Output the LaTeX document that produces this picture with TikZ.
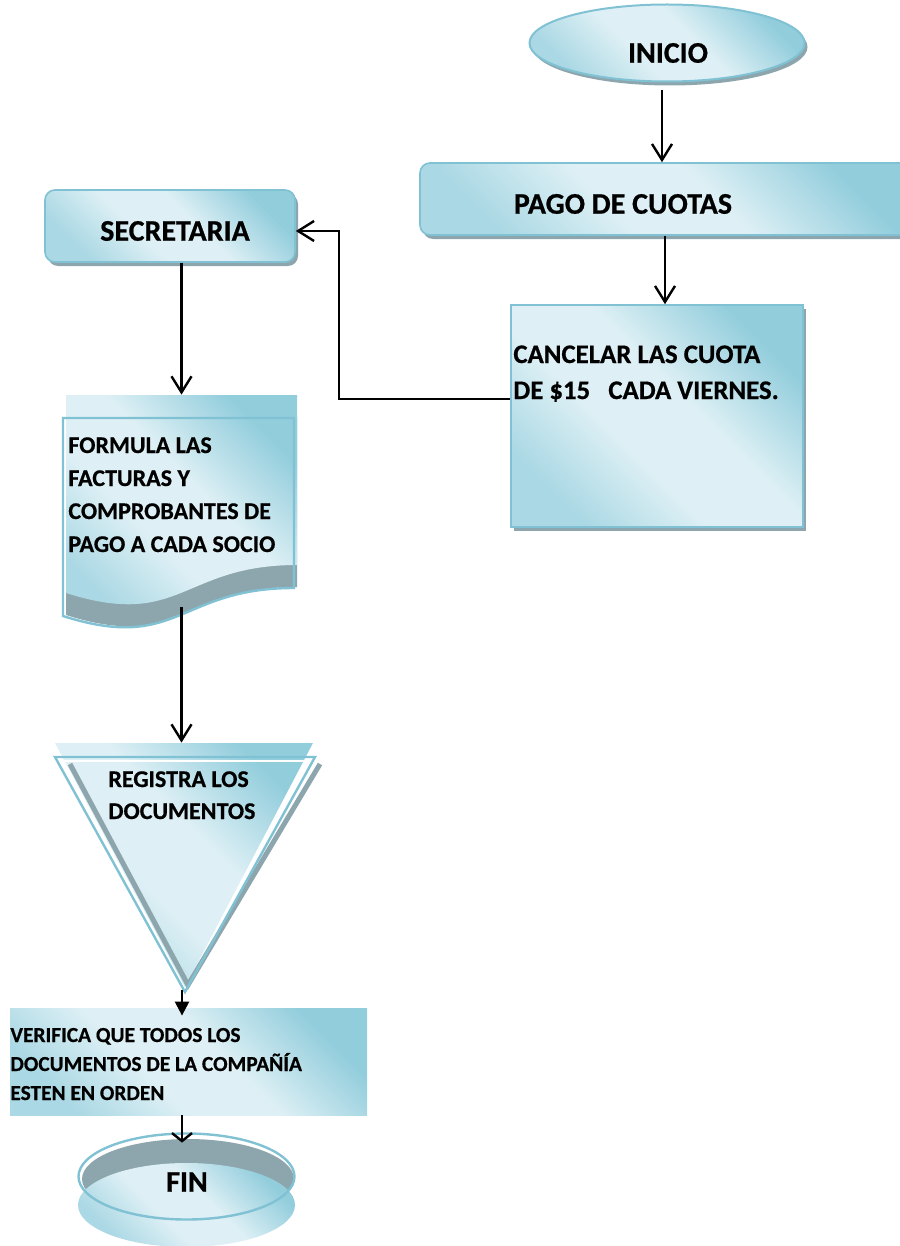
\documentclass[tikz,border=0pt]{standalone}
\usepackage{fontspec}
\setmainfont{Carlito}[BoldFeatures={FakeBold=0.6}]
\usetikzlibrary{arrows.meta,shapes.geometric,shadows,calc}
\definecolor{gdark}{RGB}{146,205,220}
\definecolor{gmid}{RGB}{170,216,228}
\definecolor{glight}{RGB}{222,240,245}
\definecolor{bord}{RGB}{128,193,212}
\definecolor{shgrey}{RGB}{141,166,173}
\pgfdeclarehorizontalshading{wgrad}{100bp}{color(0bp)=(gmid); color(25bp)=(gmid); color(42bp)=(glight); color(56bp)=(glight); color(75bp)=(gdark); color(100bp)=(gdark)}
\tikzset{
  gfill/.style={shading=wgrad, shading angle=45},
  shad/.style={general shadow={fill=shgrey, shadow xshift=1.5pt, shadow yshift=-2pt}},
  ghost/.style={draw=none, inner sep=0pt},
  conn/.style={line width=1.2pt, -{Straight Barb[length=8pt,width=10pt,line width=1.2pt]}},
  t14/.style={inner sep=0pt, font=\bfseries\fontsize{15}{18}\selectfont},
  t13/.style={inner sep=0pt, anchor=base west, font=\bfseries\fontsize{13.4}{16}\selectfont},
  t12/.style={inner sep=0pt, anchor=base west, font=\bfseries\fontsize{12}{15}\selectfont},
  t11/.style={inner sep=0pt, anchor=base west, font=\bfseries\fontsize{10.7}{13}\selectfont},
}
\begin{document}
\begin{tikzpicture}[x=0.5pt,y=-0.5pt]
\useasboundingbox (0,0) rectangle (899,1246);

% INICIO
\node[ellipse, gfill, shad, draw=bord, line width=1pt, minimum width=137.5pt, minimum height=38.5pt, inner sep=0pt] (inicio) at (667,43) {};
\node[t14] at (668,53) {INICIO};

% PAGO DE CUOTAS
\node[rectangle, rounded corners=5pt, gfill, shad, draw=bord, line width=0.8pt, minimum width=247.5pt, minimum height=36pt, inner sep=0pt] (pago) at (667.5,199) {};
\node[t14] at (623,204) {PAGO DE CUOTAS};

% SECRETARIA
\node[rectangle, rounded corners=5pt, gfill, shad, draw=bord, line width=0.8pt, minimum width=125pt, minimum height=36pt, inner sep=0pt] (sec) at (170,226) {};
\node[t14] at (175,231) {SECRETARIA};

% CANCELAR
\node[rectangle, gfill, shad, draw=bord, line width=0.8pt, minimum width=146pt, minimum height=111pt, inner sep=0pt] (canc) at (657,416) {};
\node[t13] at (513,363) {CANCELAR LAS CUOTA};
\node[t13] at (513,399) {DE \$15\ \ \ CADA VIERNES.};

% FORMULA document
\node[ghost, minimum width=115.5pt, minimum height=106pt] (doc) at (181.5,501) {};
\fill[shgrey] (66,417) -- (297,417) -- (297,587) .. controls (181.5,587) and (181.5,651.7) .. (66,615) -- cycle;
\path[gfill] (66,395) -- (297,395) -- (297,565) .. controls (181.5,565) and (181.5,629.7) .. (66,593) -- cycle;
\draw[bord, line width=1.2pt] (63,418) -- (294,418) -- (294,588) .. controls (178.5,588) and (178.5,652.7) .. (63,616) -- cycle;
\node[t12] at (68,453) {FORMULA LAS};
\node[t12] at (68,486) {FACTURAS Y};
\node[t12] at (68,519) {COMPROBANTES DE};
\node[t12] at (68,552) {PAGO A CADA SOCIO};

% REGISTRA triangle
\node[ghost, minimum width=130pt, minimum height=123.5pt] (reg) at (182,866.5) {};
\path[gfill] (55,743) -- (313,743) -- (185,987) -- cycle;
\draw[shgrey, line width=2.5pt, line join=miter] (70,764) -- (188,985) -- (320,764);
\draw[white, line width=1pt] (62,761) -- (308,761);
\draw[bord, line width=1.2pt] (55,757) -- (315,757) -- (185,992) -- cycle;
\node[t12] at (108,787) {REGISTRA LOS};
\node[t12] at (108,819) {DOCUMENTOS};

% VERIFICA
\node[rectangle, gfill, minimum width=178.5pt, minimum height=53.5pt, inner sep=0pt] (ver) at (188.5,1061.5) {};
\node[t11] at (10,1042) {VERIFICA QUE TODOS LOS};
\node[t11] at (10,1071) {DOCUMENTOS DE LA COMPAÑÍA};
\node[t11] at (10,1100) {ESTEN EN ORDEN};

% FIN
\node[ghost, minimum width=108.5pt, minimum height=57pt] (fin) at (186.5,1190) {};
\fill[shgrey] (188,1179) ellipse [x radius=106, y radius=40];
\path[gfill] (186.5,1205) ellipse [x radius=108.5, y radius=42];
\draw[bord, line width=1.2pt] (186.5,1176.5) ellipse [x radius=108, y radius=43];
\node[t14] at (187,1182) {FIN};

% connectors
\draw[conn, shorten <=4pt] ([xshift=-2.5pt]inicio.south) -- ([xshift=-2.5pt]inicio.south |- pago.north);
\draw[conn] ([xshift=-1.25pt]pago.south) -- ([xshift=-1.25pt]pago.south |- canc.north);
\draw[conn] ([yshift=8.5pt]canc.west) -- ++(-171,0) |- ([yshift=-2.5pt]sec.east);
\draw[conn] (sec.south -| doc.north) -- (doc.north);
\draw[conn] (doc.south) -- (doc.south |- reg.north);
\draw[line width=1.2pt, -{Triangle[length=7pt,width=7pt]}, shorten >=-4pt] (reg.south) -- (reg.south |- ver.north);
\draw[line width=1.2pt, -{Straight Barb[length=4pt,width=10pt,line width=1.2pt]}, shorten >=-5pt] (reg.south |- ver.south) -- (reg.south |- fin.north);
\end{tikzpicture}
\end{document}
